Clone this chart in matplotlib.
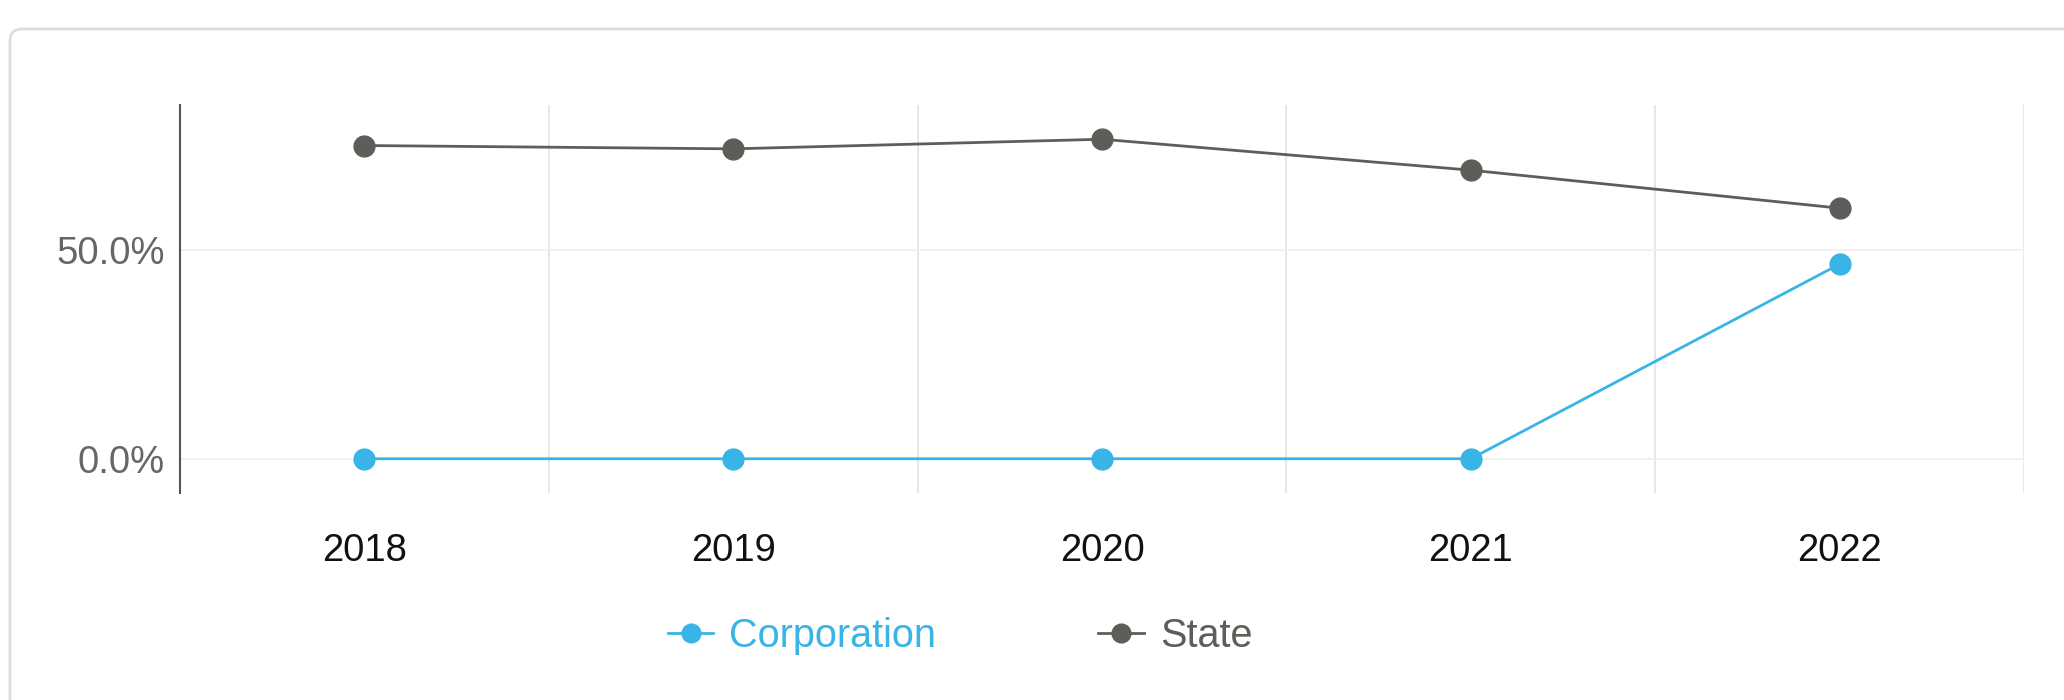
import numpy as np
import matplotlib.pyplot as plt
from matplotlib.patches import FancyBboxPatch
from matplotlib.ticker import FuncFormatter

# Donnees
annees = ['2018', '2019', '2020', '2021', '2022']
corporation = [0.0, 0.0, 0.0, 0.0, 46.6]
state = [75.0, 74.2, 76.5, 69.1, 60.0]

bleu = '#38b4e6'
gris = '#5e5d59'

plt.rcParams['font.family'] = ['Liberation Sans', 'DejaVu Sans']

fig = plt.figure(figsize=(20.64, 7.0), dpi=100)

# Cadre arrondi (carte) en arriere-plan, en pouces
carte = FancyBboxPatch((0.10, -0.5), 22.0, 7.21,
                       boxstyle='round,pad=0,rounding_size=0.12',
                       transform=fig.dpi_scale_trans, fc='white', ec='#dddddd',
                       lw=2, zorder=-5)
fig.patches.append(carte)

ax = fig.add_axes([180/2064, 1-493/700, (2024-180)/2064, (493-105)/700])
ax.set_facecolor('none')

x = np.arange(len(annees))
ax.plot(x, corporation, '-o', color=bleu, lw=2.0, ms=15, label='Corporation', zorder=3)
ax.plot(x, state, '-o', color=gris, lw=2.0, ms=15, label='State', zorder=3)

ax.set_xlim(-0.5, len(annees)-0.5)
ax.set_ylim(-8.2, 84.7)

# Grille verticale entre les categories
for b in np.arange(0.5, len(annees), 1.0):
	ax.axvline(b, color='#e3e3e3', lw=1.2, zorder=1)
for v in [0, 50]:
	ax.axhline(v, color='#efefef', lw=1.2, zorder=1)

ax.set_xticks(x)
ax.set_xticklabels(annees)
ax.set_yticks([0, 50])
ax.yaxis.set_major_formatter(FuncFormatter(lambda v, p: '%.1f%%' % v))
ax.tick_params(axis='x', length=0, pad=29, labelsize=27.5, colors='#111111')
ax.tick_params(axis='y', length=0, pad=11, labelsize=27.5, colors='#666666')

for s in ['top', 'right', 'bottom']:
	ax.spines[s].set_visible(False)
ax.spines['left'].set_color('#555555')
ax.spines['left'].set_linewidth(1.5)

leg = fig.legend(loc='center', bbox_to_anchor=(960/2064, 1-636/700), ncol=2,
                 frameon=False, fontsize=28.5, handlelength=1.15, handletextpad=0.4,
                 columnspacing=4.1, markerscale=0.9)
for t, c in zip(leg.get_texts(), [bleu, gris]):
	t.set_color(c)

plt.savefig('out.png', dpi=100)
